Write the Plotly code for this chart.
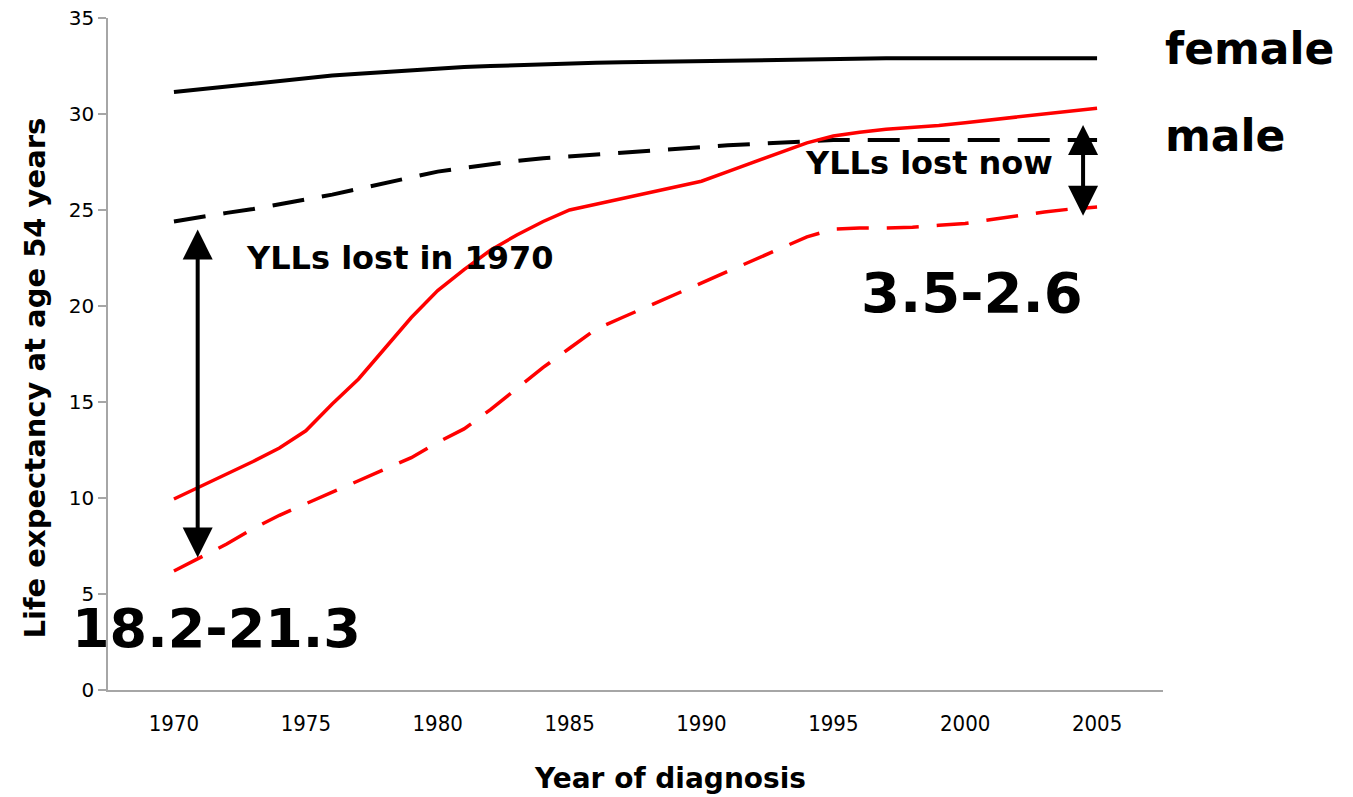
import plotly.graph_objects as go

years = list(range(1970, 2006))

female_general = [31.15, 31.3, 31.45, 31.6, 31.75, 31.9, 32.0, 32.1, 32.2, 32.3,
                  32.4, 32.45, 32.5, 32.55, 32.6, 32.65, 32.67, 32.69, 32.71, 32.73,
                  32.75, 32.78, 32.81, 32.84, 32.87, 32.9, 32.9, 32.9, 32.9, 32.9,
                  32.9, 32.9, 32.9, 32.9, 32.9, 32.9]
male_general = [24.4, 24.65, 24.85, 25.05, 25.3, 25.5, 25.8, 26.1, 26.4, 26.7,
                27.0, 27.2, 27.4, 27.55, 27.7, 27.8, 27.9, 28.0, 28.1, 28.2,
                28.3, 28.37, 28.44, 28.51, 28.58, 28.65, 28.65, 28.65, 28.65, 28.65,
                28.65, 28.65, 28.65, 28.65, 28.65, 28.65]
female_patients = [9.95, 10.6, 11.2, 11.9, 12.6, 13.5, 14.9, 16.2, 17.8, 19.4,
                   20.8, 21.9, 22.9, 23.7, 24.4, 25.0, 25.3, 25.6, 25.9, 26.2,
                   26.5, 27.0, 27.5, 28.0, 28.5, 28.85, 29.05, 29.2, 29.3, 29.4,
                   29.55, 29.7, 29.85, 30.0, 30.15, 30.3]
male_patients = [6.2, 6.9, 7.6, 8.4, 9.1, 9.7, 10.3, 10.9, 11.5, 12.1,
                 12.9, 13.6, 14.6, 15.7, 16.8, 17.8, 18.8, 19.4, 20.0, 20.6,
                 21.2, 21.8, 22.4, 23.0, 23.6, 24.0, 24.06, 24.06, 24.1, 24.2,
                 24.3, 24.5, 24.7, 24.9, 25.05, 25.15]

x_ticks = [1970, 1975, 1980, 1985, 1990, 1995, 2000, 2005]
y_ticks = [0, 5, 10, 15, 20, 25, 30, 35]

BOLD = "DejaVu Sans"

fig = go.Figure()
fig.add_trace(go.Scatter(x=years, y=female_general, mode="lines",
                         line=dict(color="black", width=4), name="female"))
fig.add_trace(go.Scatter(x=years, y=male_general, mode="lines",
                         line=dict(color="black", width=4, dash="32px,18px"), name="male"))
fig.add_trace(go.Scatter(x=years, y=female_patients, mode="lines",
                         line=dict(color="#ff0000", width=3.5), name="female patients"))
fig.add_trace(go.Scatter(x=years, y=male_patients, mode="lines",
                         line=dict(color="#ff0000", width=3.5, dash="32px,18px"), name="male patients"))

annotations = [
    dict(text="<b>female</b>", x=2007.5, y=33.4, xanchor="left", yanchor="middle",
         font=dict(family=BOLD, size=44, color="black")),
    dict(text="<b>male</b>", x=2007.5, y=28.9, xanchor="left", yanchor="middle",
         font=dict(family=BOLD, size=44, color="black")),
    dict(text="<b>YLLs lost in 1970</b>", x=1972.65, y=22.5, xanchor="left", yanchor="middle",
         font=dict(family=BOLD, size=32, color="black")),
    dict(text="<b>YLLs lost now</b>", x=2003.4, y=27.45, xanchor="right", yanchor="middle",
         font=dict(family=BOLD, size=32, color="black")),
    dict(text="<b>3.5-2.6</b>", x=2000.27, y=20.7, xanchor="center", yanchor="middle",
         font=dict(family=BOLD, size=56, color="black")),
    dict(text="<b>18.2-21.3</b>", x=1971.6, y=3.2, xanchor="center", yanchor="middle",
         font=dict(family=BOLD, size=54, color="black")),
]
for a in annotations:
    a.update(xref="x", yref="y", showarrow=False)

# axis titles placed as annotations to match the reference offsets
annotations.append(dict(text="<b>Year of diagnosis</b>", xref="paper", yref="paper",
                        x=0.533, y=-0.1324, xanchor="center", yanchor="middle",
                        showarrow=False, font=dict(family=BOLD, size=28, color="black")))
annotations.append(dict(text="<b>Life expectancy at age 54 years</b>", xref="paper", yref="paper",
                        x=-0.0692, y=0.465, xanchor="center", yanchor="middle", textangle=-90,
                        showarrow=False, font=dict(family=BOLD, size=29, color="black")))

# double-headed arrows
for (xa, y0, y1) in [(1970.9, 24.06, 6.9), (2004.47, 29.5, 24.7)]:
    annotations.append(dict(x=xa, y=y1, ax=xa, ay=y0, xref="x", yref="y",
                            axref="x", ayref="y", text="", showarrow=True,
                            arrowhead=2, startarrowhead=2, arrowside="end+start",
                            arrowsize=1.5, startarrowsize=1.5,
                            arrowwidth=4, arrowcolor="black"))

fig.update_layout(
    width=1353, height=797,
    margin=dict(l=108, r=190, t=18, b=107),
    paper_bgcolor="white", plot_bgcolor="white",
    showlegend=False,
    annotations=annotations,
    xaxis=dict(range=[1967.5, 2007.5], tickvals=x_ticks, ticktext=[str(v) for v in x_ticks],
               showgrid=False, zeroline=False, showline=True, linecolor="#a6a6a6", linewidth=1.5,
               ticks="", ticklabelstandoff=13, automargin=False,
               tickfont=dict(family="Liberation Sans Narrow, DejaVu Sans Condensed, Arial Narrow", size=22, color="black")),
    yaxis=dict(range=[0, 35], tickvals=y_ticks, showgrid=False, zeroline=False,
               showline=True, linecolor="#a6a6a6", linewidth=1.5, automargin=False,
               ticks="outside", ticklen=8, tickcolor="#a6a6a6", tickwidth=1.5,
               tickfont=dict(family="DejaVu Sans", size=20, color="black")),
)

fig.write_html("out.html", config={"displayModeBar": False},
               post_script="document.body.style.margin='0';")
